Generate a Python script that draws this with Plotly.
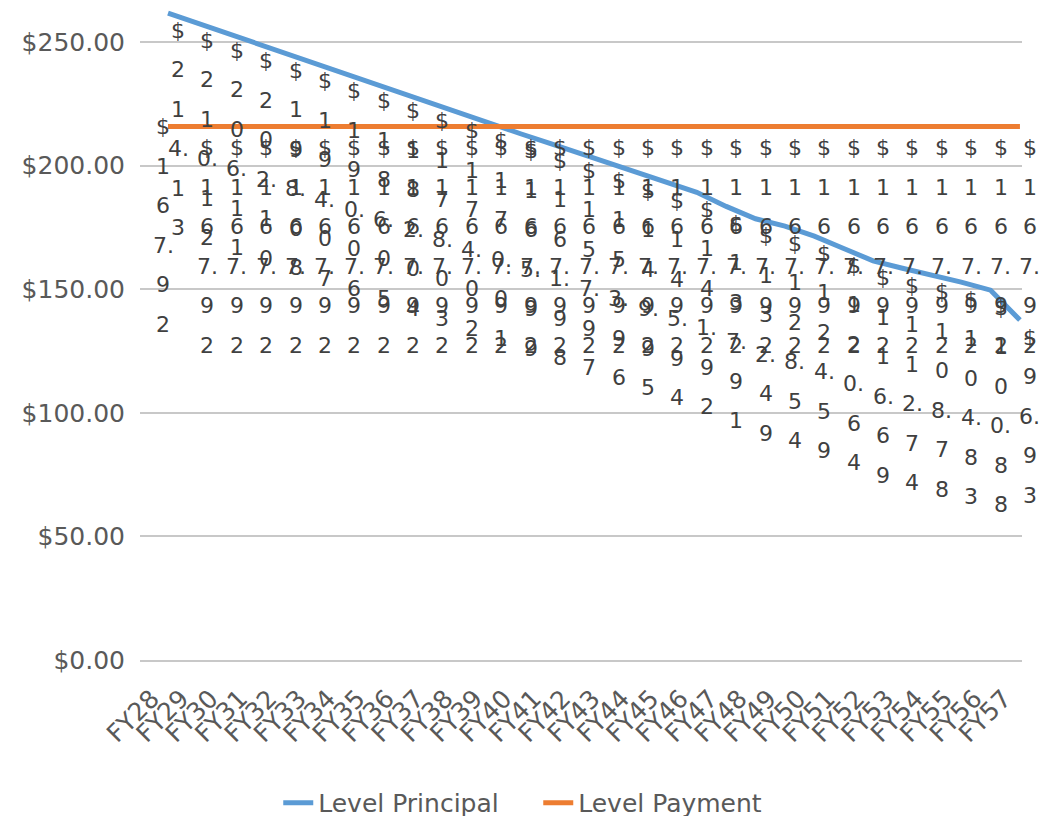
import plotly.graph_objects as go

categories = ["FY28", "FY29", "FY30", "FY31", "FY32", "FY33", "FY34", "FY35", "FY36", "FY37",
              "FY38", "FY39", "FY40", "FY41", "FY42", "FY43", "FY44", "FY45", "FY46", "FY47",
              "FY48", "FY49", "FY50", "FY51", "FY52", "FY53", "FY54", "FY55", "FY56", "FY57"]

level_principal = [261.7, 257.6, 253.5, 249.4, 245.4, 241.3, 237.2, 233.2, 229.1, 225.0,
                   221.0, 216.9, 212.9, 209.0, 205.0, 200.9, 196.9, 192.8, 189.2, 183.5,
                   178.5, 175.5, 171.5, 166.5, 161.5, 158.5, 155.8, 152.9, 149.6, 137.5]

level_payment = [215.8, 215.8, 215.8, 215.8, 215.8, 215.8, 215.8, 215.8, 215.8, 215.8,
                 215.8, 215.8, 215.8, 215.8, 215.8, 215.8, 215.8, 215.8, 215.8, 215.8,
                 215.8, 215.8, 215.8, 215.8, 215.8, 215.8, 215.8, 215.8, 215.8, 215.8]

principal_labels = ["$214.13", "$210.12", "$206.11", "$202.10", "$198.08", "$194.07", "$190.06",
                    "$186.05", "$182.04", "$178.03", "$174.02", "$170.01", "$165.99", "$161.98",
                    "$157.97", "$153.96", "$149.95", "$145.94", "$141.92", "$137.91", "$132.49",
                    "$128.54", "$124.59", "$120.64", "$116.69", "$112.74", "$108.78", "$104.83",
                    "$100.88", "$96.93"]

payment_labels = ["$167.92", "$167.92", "$167.92", "$167.92", "$167.92", "$167.92", "$167.92",
                  "$167.92", "$167.92", "$167.92", "$167.92", "$167.92", "$167.92", "$167.92",
                  "$167.92", "$167.92", "$167.92", "$167.92", "$167.92", "$167.92", "$167.92",
                  "$167.92", "$167.92", "$167.92", "$167.92", "$167.92", "$167.92", "$167.92",
                  "$167.92", "$167.92"]

BLUE = "#5B9BD5"
ORANGE = "#ED7D31"
TEXT = "#595959"
LABEL = "#404040"
GRID = "#C8C8C8"
FONT = "DejaVu Sans"
LINE_STEP = 39.5


def split_label(s):
    rows = []
    for ch in s:
        if ch == "." and rows:
            rows[-1] += ch
        else:
            rows.append(ch)
    return rows


fig = go.Figure()
fig.add_trace(go.Scatter(x=categories, y=level_principal, mode="lines", name="Level Principal",
                         line=dict(color=BLUE, width=5)))
fig.add_trace(go.Scatter(x=categories, y=level_payment, mode="lines", name="Level Payment",
                         line=dict(color=ORANGE, width=5)))

annotations = []
for series, values, labels in (("principal", level_principal, principal_labels),
                               ("payment", level_payment, payment_labels)):
    for i, (cat, val, lab) in enumerate(zip(categories, values, labels)):
        # label placement style (Excel-like wrapped labels below the point)
        if series == "principal":
            dx, dy = 10, 17
        elif i == 0:
            dx, dy = -5, 0   # first payment label sits at the left end of the line
        else:
            dx, dy = 10, 21
        for k, row in enumerate(split_label(lab)):
            annotations.append(dict(x=cat, y=val, xref="x", yref="y", text=row,
                                    showarrow=False, xshift=dx, yshift=-(dy + LINE_STEP * k),
                                    font=dict(family=FONT, size=22, color=LABEL)))

fig.update_layout(
    width=1058, height=816,
    margin=dict(l=140, r=36, t=2, b=156, autoexpand=False),
    paper_bgcolor="white", plot_bgcolor="white",
    font=dict(family=FONT, size=24, color=TEXT),
    showlegend=True,
    legend=dict(orientation="h", xref="container", yref="container", x=0.263, y=0.016,
                xanchor="left", yanchor="middle", entrywidth=215,
                font=dict(family=FONT, size=25, color=TEXT)),
    annotations=annotations,
)
fig.update_xaxes(type="category", range=[-0.953, 29.07], tickangle=-45, showgrid=False,
                 tickmode="array", tickvals=categories, ticktext=categories,
                 showline=True, linecolor=GRID, linewidth=2, ticks="", automargin=False,
                 ticklabelshift=-16, ticklabelstandoff=12,
                 tickfont=dict(family=FONT, size=25, color=TEXT))
fig.update_yaxes(range=[0, 266.2], tick0=0, dtick=50, tickprefix="$", tickformat=",.2f",
                 showgrid=True, gridcolor=GRID, gridwidth=2, zeroline=False, showline=False,
                 ticks="", ticklabelstandoff=14, automargin=False,
                 tickfont=dict(family=FONT, size=25, color=TEXT))

fig.write_html("out.html", config={"displayModeBar": False},
               post_script="document.body.style.margin='0px';")
